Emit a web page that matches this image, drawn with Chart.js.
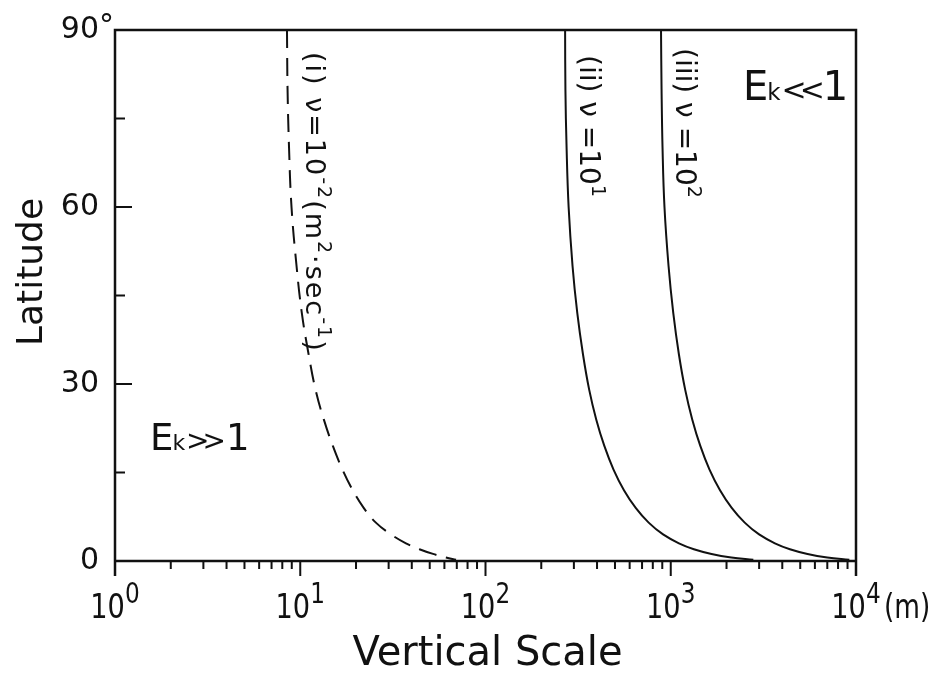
<!DOCTYPE html>
<html>
<head>
<meta charset="utf-8">
<script src="https://cdn.jsdelivr.net/npm/chart.js@4/dist/chart.umd.min.js"></script>
<style>
  html, body { margin: 0; padding: 0; background: #fff; }
  #wrap { width: 945px; height: 676px; }
</style>
</head>
<body>
<div id="wrap"><canvas id="chart" width="945" height="676"></canvas></div>
<script>
const latitudes = [90, 80, 70, 60, 50, 42, 35, 29, 24, 19.5, 15.5, 12, 9, 6.5, 4.5, 3, 2, 1.2, 0.6, 0.2];
// vertical scale (m) for each viscosity
const scaleNuMinus2 = [8.48, 8.54, 8.70, 8.97, 9.55, 10.2, 11.1, 12.1, 13.4, 15.0, 16.9, 19.2, 22.0, 25.6, 30.9, 37.2, 44.0, 52.1, 61.2, 69.3];
const scaleNu1 = [269, 270, 274, 281, 295, 313, 336, 363, 396, 438, 491, 559, 647, 760, 909, 1107, 1333, 1660, 2123, 2791];
const scaleNu2 = [886, 892, 903, 925, 973, 1032, 1107, 1197, 1306, 1444, 1619, 1845, 2134, 2508, 2999, 3650, 4398, 5474, 7000, 9204];

const yMajorTicks = [0, 30, 60, 90];
const yMinorTicks = [15, 45, 75];
const xDecades = [1, 10, 100, 1000, 10000];
const xExponents = ["0", "1", "2", "3", "4"];
const xMinorSteps = [2, 3, 4, 5, 6, 7, 8, 9];

const INK = "#111";
const SANS = "'DejaVu Sans', 'Liberation Sans', sans-serif";

function toPoints(values) {
    return values.map((v, i) => ({ x: v, y: latitudes[i] }));
}

// draws a run of text pieces along one baseline, optionally rotated / squeezed
function drawRich(ctx, x, y, angle, pieces, squeeze = 1, spacing = 0) {
    ctx.save();
    ctx.translate(x, y);
    ctx.rotate(angle);
    ctx.scale(squeeze, 1);
    ctx.textAlign = "left";
    ctx.textBaseline = "alphabetic";
    ctx.letterSpacing = spacing + "px";
    let pos = 0;
    pieces.forEach(p => {
        ctx.font = `${p.weight || "normal"} ${p.size}px ${SANS}`;
        ctx.fillText(p.t, pos + (p.dx || 0), -(p.rise || 0));
        pos += ctx.measureText(p.t).width + (p.dx || 0);
    });
    ctx.restore();
}

const framePlugin = {
    id: "frame",
    afterDraw(chart) {
        const ctx = chart.ctx;
        const xs = chart.scales.x, ys = chart.scales.y;
        const L = chart.chartArea.left, R = chart.chartArea.right;
        const T = chart.chartArea.top, B = chart.chartArea.bottom;
        ctx.save();
        ctx.strokeStyle = INK;
        ctx.fillStyle = INK;

        // box (left and right sides run down as the end decade ticks)
        ctx.lineWidth = 2.5;
        ctx.beginPath();
        ctx.moveTo(L, B + 15); ctx.lineTo(L, T); ctx.lineTo(R, T); ctx.lineTo(R, B + 15);
        ctx.moveTo(L, B); ctx.lineTo(R, B);
        ctx.stroke();

        // y ticks point inward, x ticks outward
        ctx.lineWidth = 2;
        ctx.beginPath();
        yMajorTicks.forEach(v => { const p = ys.getPixelForValue(v); ctx.moveTo(L, p); ctx.lineTo(L + 17, p); });
        yMinorTicks.forEach(v => { const p = ys.getPixelForValue(v); ctx.moveTo(L, p); ctx.lineTo(L + 10, p); });
        xDecades.forEach(d => { const p = xs.getPixelForValue(d); ctx.moveTo(p, B); ctx.lineTo(p, B + 15); });
        xDecades.slice(0, -1).forEach(d => {
            xMinorSteps.forEach(k => { const p = xs.getPixelForValue(d * k); ctx.moveTo(p, B); ctx.lineTo(p, B + 8); });
        });
        ctx.stroke();

        // y tick labels
        ctx.font = `30px ${SANS}`;
        ctx.textAlign = "right";
        ctx.textBaseline = "middle";
        yMajorTicks.forEach(v => {
            const p = ys.getPixelForValue(v);
            ctx.fillText(String(v), L - 16, p);
            if (v === 90) { ctx.textAlign = "left"; ctx.fillText("°", L - 16, p - 3); ctx.textAlign = "right"; }
        });

        // x tick labels 10^n (condensed like the stencil lettering)
        const sq = 0.8;
        xDecades.forEach((d, i) => {
            const p = xs.getPixelForValue(d);
            ctx.font = `34px ${SANS}`;
            const w1 = ctx.measureText("10").width;
            ctx.font = `29px ${SANS}`;
            const w2 = ctx.measureText(xExponents[i]).width;
            const start = p - sq * (w1 + w2) / 2;
            const pieces = [
                { t: "10", size: 34 },
                { t: xExponents[i], size: 29, rise: 15 }
            ];
            if (i === xDecades.length - 1) pieces.push({ t: "(m)", size: 33, dx: 4 });
            drawRich(ctx, start, B + 57, 0, pieces, sq);
        });

        // axis titles
        ctx.font = `40px ${SANS}`;
        ctx.textAlign = "center";
        ctx.textBaseline = "alphabetic";
        ctx.fillText("Vertical Scale", (L + R) / 2 + 2, 665);
        ctx.save();
        ctx.translate(42, 272);
        ctx.rotate(-Math.PI / 2);
        ctx.font = `36px ${SANS}`;
        ctx.fillText("Latitude", 0, 0);
        ctx.restore();

        // curve labels, written downward
        const down = Math.PI / 2;
        drawRich(ctx, 306, 52, down, [
            { t: "(i) ν=10", size: 27 },
            { t: "-2", size: 19, rise: 12 },
            { t: "(m", size: 27 },
            { t: "2", size: 19, rise: 12 },
            { t: "·sec", size: 27 },
            { t: "-1", size: 19, rise: 12 },
            { t: ")", size: 27 }
        ], 1, 2);
        drawRich(ctx, 580, 55, down, [
            { t: "(ii) ν =10", size: 28 },
            { t: "1", size: 19, rise: 12 }
        ]);
        drawRich(ctx, 676, 48, down, [
            { t: "(iii) ν =10", size: 28 },
            { t: "2", size: 19, rise: 12 }
        ]);

        // Ekman number regions
        drawRich(ctx, 743, 100, 0, [
            { t: "E", size: 40 },
            { t: "k", size: 23, dx: -1 },
            { t: "<", size: 30, dx: 1 },
            { t: "<", size: 30, dx: -7 },
            { t: "1", size: 40, dx: -2 }
        ]);
        drawRich(ctx, 150, 450, 0, [
            { t: "E", size: 37 },
            { t: "k", size: 22, dx: -1 },
            { t: ">", size: 28, dx: 1 },
            { t: ">", size: 28, dx: -7 },
            { t: "1", size: 37, dx: 0 }
        ]);
        ctx.restore();
    }
};

const lineStyle = {
    showLine: true,
    pointRadius: 0,
    borderColor: INK,
    borderWidth: 2,
    fill: false,
    tension: 0.4
};

new Chart(document.getElementById("chart").getContext("2d"), {
    type: "scatter",
    data: {
        datasets: [
            { label: "(i) nu=1e-2", data: toPoints(scaleNuMinus2), ...lineStyle, borderDash: [18, 10] },
            { label: "(ii) nu=1e1", data: toPoints(scaleNu1), ...lineStyle },
            { label: "(iii) nu=1e2", data: toPoints(scaleNu2), ...lineStyle }
        ]
    },
    options: {
        responsive: false,
        animation: false,
        layout: { padding: { left: 115, right: 89, top: 30, bottom: 115 } },
        plugins: { legend: { display: false }, tooltip: { enabled: false } },
        scales: {
            x: { type: "logarithmic", min: 1, max: 10000, display: false },
            y: { type: "linear", min: 0, max: 90, display: false }
        }
    },
    plugins: [framePlugin]
});
</script>
</body>
</html>
